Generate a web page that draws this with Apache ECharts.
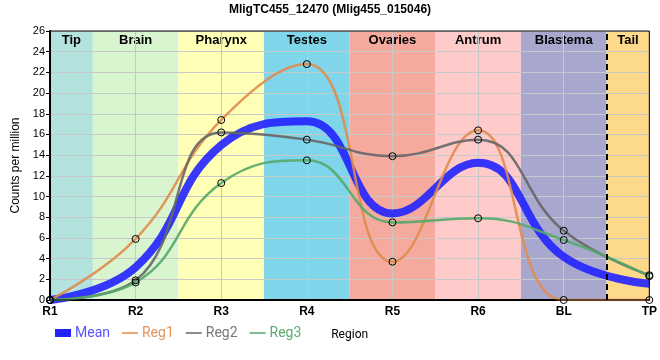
<!DOCTYPE html>
<html><head><meta charset="utf-8">
<script src="https://cdn.jsdelivr.net/npm/echarts@6/dist/echarts.min.js"></script>
<style>html,body{margin:0;padding:0;background:#fff}#c{width:660px;height:360px}</style>
</head><body><div id="c"></div>
<script>
const regions = ['R1','R2','R3','R4','R5','R6','BL','TP'];
const mean = [0, 3.17, 14.97, 17.27, 8.37, 13.27, 4.17, 1.57];
const reg1 = [0, 5.9, 17.4, 22.8, 3.7, 16.4, 0, 0];
const reg2 = [0, 1.9, 16.2, 15.5, 13.9, 15.5, 6.7, 2.4];
const reg3 = [0, 1.7, 11.3, 13.5, 7.5, 7.9, 5.8, 2.3];
const bandNames = ['Tip','Brain','Pharynx','Testes','Ovaries','Antrum','Blastema','Tail'];
const bandStart = [0, 0.5, 1.5, 2.5, 3.5, 4.5, 5.5, 6.5];
const bandEnd = [0.5, 1.5, 2.5, 3.5, 4.5, 5.5, 6.5, 7];
const bandColors = ['#b3e3df','#d8f5d0','#ffffb6','#7fd5ea','#f5aa9d','#fecaca','#a8a8cf','#fdd98c'];
const yTicks = [0, 26, 2];

const pts = a => a.map((v,i)=>[i,v]);
const chart = echarts.init(document.getElementById('c'));
const thin = 'path://M0,0h0.01v8h-0.01z M0,3h20v2H0z';
const legItem = (name, icon, iconColor, textColor) => ({name, icon,
  itemStyle:{color:iconColor,borderWidth:0,opacity:1}, textStyle:{color:textColor}});
chart.setOption({
  animation:false,
  title:{text:'MligTC455_12470 (Mlig455_015046)',left:'center',top:-1,
    textStyle:{fontSize:12,fontWeight:'bold',color:'#000',fontFamily:'Liberation Sans, Arial, sans-serif'}},
  grid:{left:50,right:8,top:31,bottom:60},
  legend:{left:50,top:321,itemWidth:16,itemHeight:8,itemGap:12,
    textStyle:{fontSize:14,fontFamily:'Roboto, sans-serif',padding:[0,0,0,-1]},
    data:[
      legItem('Mean','rect','#2222ff','#5555ff'),
      legItem('Reg1',thin,'#e08c4e','#e0965e'),
      legItem('Reg2',thin,'#666','#777'),
      legItem('Reg3',thin,'#55a86a','#5aad70')
    ]},
  xAxis:{type:'value',min:0,max:7,interval:1,z:1.5,
    name:'Region',nameLocation:'middle',nameGap:29,
    nameTextStyle:{color:'#000',fontSize:12,fontFamily:'Roboto, sans-serif'},
    axisLine:{lineStyle:{color:'#000',width:2}},
    axisTick:{show:false},
    axisLabel:{formatter:v=>regions[v]||'',color:'#000',fontSize:12,fontWeight:'bold',margin:6,
      fontFamily:'Liberation Sans, Arial, sans-serif'},
    splitLine:{show:true,lineStyle:{color:'#c8c8c8',width:1}}},
  yAxis:{type:'value',min:yTicks[0],max:yTicks[1],interval:yTicks[2],z:1.5,
    name:'Counts per million',nameLocation:'middle',nameGap:21,
    nameTextStyle:{color:'#000',fontSize:12,fontFamily:'Liberation Sans, Arial, sans-serif'},
    axisLine:{show:true,lineStyle:{color:'#000',width:2}},
    axisTick:{show:true,length:4,lineStyle:{color:'#000'}},
    axisLabel:{color:'#000',fontSize:11,margin:5,fontFamily:'Liberation Sans, Arial, sans-serif'},
    splitLine:{show:true,lineStyle:{color:'#c8c8c8',width:1}}},
  series:[
    {type:'line',name:'bands',data:[],z:1,silent:true,
      markArea:{silent:true,
        label:{position:'insideTop',distance:3,color:'#000',fontSize:13,fontWeight:'bold',
          fontFamily:'Liberation Sans, Arial, sans-serif'},
        data:bandNames.map((n,i)=>[{name:n,xAxis:bandStart[i],yAxis:26,itemStyle:{color:bandColors[i],opacity:1}},{xAxis:bandEnd[i],yAxis:0}])},
      markLine:{silent:true,symbol:'none',label:{show:false},
        lineStyle:{color:'#000',type:[6,4],width:2},
        data:[{xAxis:6.5}]}},
    {type:'line',name:'Mean',data:pts(mean),smooth:0.45,showSymbol:false,z:3,
      lineStyle:{color:'#2222ff',width:8,opacity:0.9},itemStyle:{color:'#2222ff'}},
    {type:'line',name:'Reg1',data:pts(reg1),smooth:0.45,symbol:'circle',symbolSize:7,z:4,
      lineStyle:{color:'#e08c4e',width:2.5,opacity:0.9},
      itemStyle:{color:'rgba(0,0,0,0)',borderColor:'#000',borderWidth:1}},
    {type:'line',name:'Reg2',data:pts(reg2),smooth:0.45,symbol:'circle',symbolSize:7,z:4,
      lineStyle:{color:'#666',width:2.5,opacity:0.9},
      itemStyle:{color:'rgba(0,0,0,0)',borderColor:'#000',borderWidth:1}},
    {type:'line',name:'Reg3',data:pts(reg3),smooth:0.45,symbol:'circle',symbolSize:7,z:4,
      lineStyle:{color:'#55a86a',width:2.5,opacity:0.9},
      itemStyle:{color:'rgba(0,0,0,0)',borderColor:'#000',borderWidth:1}}
  ],
  graphic:[]
});
const p0 = chart.convertToPixel({gridIndex:0},[0,26]);
const p1 = chart.convertToPixel({gridIndex:0},[7,0]);
chart.setOption({graphic:[{type:'rect',z:5,silent:true,shape:{x:p0[0],y:p0[1],width:p1[0]-p0[0],height:p1[1]-p0[1]},
  style:{fill:'none',stroke:'#000',lineWidth:1}}]});
</script></body></html>
